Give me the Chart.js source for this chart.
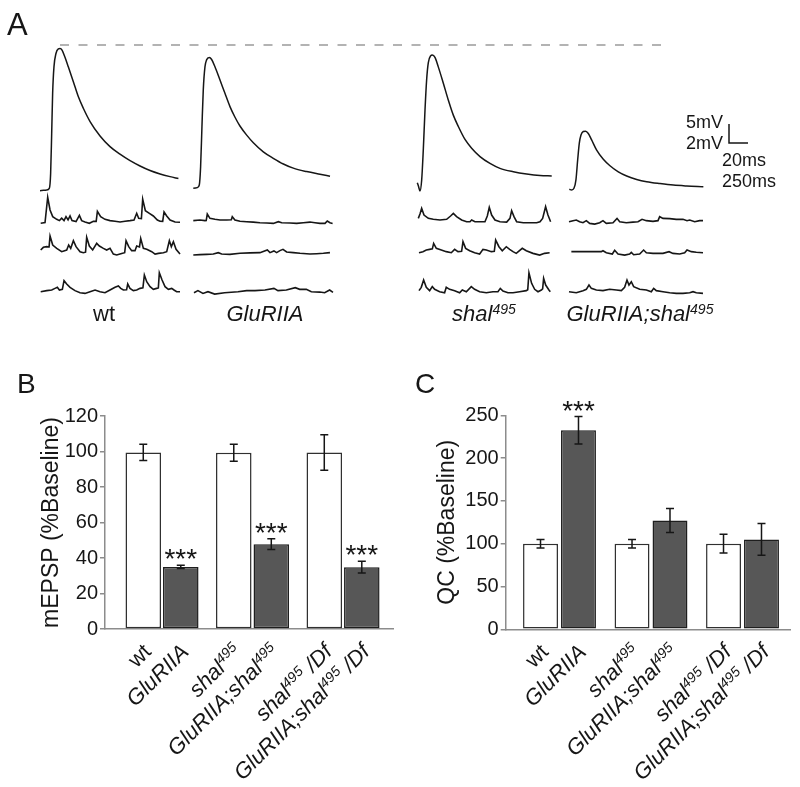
<!DOCTYPE html>
<html>
<head>
<meta charset="utf-8">
<script src="https://cdn.jsdelivr.net/npm/chart.js@4.4.0/dist/chart.umd.min.js"></script>
<style>
  html, body { margin: 0; padding: 0; background: #fff; }
  #page { position: relative; width: 800px; height: 787px; overflow: hidden; }
  canvas { position: absolute; }
</style>
</head>
<body>
<div id="page">
  <canvas id="traces" width="800" height="340" style="left:0;top:0"></canvas>
  <canvas id="mepsp" width="400" height="447" style="left:0;top:340px"></canvas>
  <canvas id="qc" width="400" height="447" style="left:400px;top:340px"></canvas>
</div>
<script>
// ---------- data ----------
// bar panels: one entry per genotype, ^...^ marks a superscript
const genotypes = ['wt', 'GluRIIA', 'shal^495^', 'GluRIIA;shal^495^', 'shal^495^ /Df', 'GluRIIA;shal^495^ /Df'];
const mepspMean = [99.5, 35.0, 99.3, 47.8, 99.4, 34.8];
const mepspSem  = [4.6, 0.9, 4.8, 3.0, 10.0, 3.3];
const mepspSig  = ['', '***', '', '***', '', '***'];
const mepspTicks = [0, 20, 40, 60, 80, 100, 120];
const qcMean = [100.0, 232.5, 100.0, 127.0, 100.0, 105.0];
const qcSem  = [5.0, 16.0, 5.0, 14.0, 11.0, 18.5];
const qcSig  = ['', '***', '', '', '', ''];
const qcTicks = [0, 50, 100, 150, 200, 250];

// panel A: evoked EPSPs, [ms, mV]
const traceLabels = ['wt', 'GluRIIA', 'shal^495^', 'GluRIIA;shal^495^'];
const epspWt = [[0,0],[7.0,0.18],[9.8,0.61],[11.2,4.56],[12.3,15.1],[13.3,25.6],[14.7,32.6],[16.8,36.1],[19.3,37.3],[21.1,37.4],[23.2,37.0],[26.3,35.1],[29.8,32.6],[35.1,28.7],[40.4,24.7],[45.6,21.7],[52.7,18.2],[63.2,14.4],[73.7,11.6],[84.2,9.6],[94.8,7.9],[105.3,6.5],[115.8,5.3],[126.4,4.4],[136.9,3.7],[145.7,3.2]];
const epspGluRIIA = [[0,0],[4.2,0.18],[6.3,0.88],[7.7,5.7],[9.1,16.2],[10.5,25.9],[12.3,32.0],[14.0,33.8],[16.8,34.4],[19.3,33.9],[22.8,32.0],[28.1,28.5],[33.3,25.0],[38.6,21.5],[43.9,18.7],[49.1,16.4],[56.2,14.0],[63.2,12.0],[73.7,9.6],[84.2,7.9],[94.8,6.4],[105.3,5.3],[119.3,4.4],[133.4,3.7],[143.9,3.2]];
const epspShal = [[0,1.93],[1.4,0.88],[2.8,-0.26],[4.6,2.6],[6.3,10.5],[8.1,21.0],[9.8,28.9],[11.6,33.5],[14.0,35.3],[15.8,35.5],[18.6,34.9],[22.1,32.4],[27.4,28.1],[32.6,23.7],[37.9,19.7],[43.2,16.7],[50.2,13.3],[57.2,11.0],[66.0,8.8],[76.5,7.0],[87.0,5.7],[101.1,4.8],[115.1,4.2],[129.2,3.8],[141.5,3.7]];
const epspDouble = [[0,0],[2.5,-0.18],[4.9,0.26],[7.0,2.5],[8.8,7.7],[10.5,12.1],[12.3,14.3],[14.7,15.2],[17.2,15.3],[20.0,14.7],[23.5,13.0],[28.8,10.3],[35.8,7.9],[42.8,6.2],[51.6,4.6],[60.4,3.5],[70.9,2.6],[81.4,2.0],[95.5,1.5],[109.5,1.1],[123.6,0.88],[141.1,0.70]];

// panel A: spontaneous minis, three sweeps per genotype, [ms, mV]
const miniWt = [
  [[0,0],[57,0.07],[92,2.74],[123,1.40],[158,0.70],[211,0.42],[246,0.28],[276,0.53],[307,0.28],[333,0.70],[360,0.35],[386,0.77],[412,0.28],[465,0.18],[509,0.84],[539,0.28],[583,0.14],[640,0],[693,0.21],[730,0.2],[746,1.26],[789,0.70],[846,0.42],[912,0.28],[978,0.21],[1044,0.14],[1110,0.21],[1175,0.28],[1228,0.35],[1263,1.05],[1289,0.53],[1325,0.5],[1342,2.53],[1377,1.33],[1430,1.05],[1482,0.77],[1535,0.35],[1570,0.21],[1605,0.2],[1623,1.19],[1658,0.77],[1702,0.35],[1768,0.14],[1833,0.11]],
  [[0,0.18],[35,0.46],[79,0.53],[110,0.5],[123,1.65],[158,0.70],[211,0.35],[276,0],[342,0.18],[368,0.70],[395,0.35],[430,1.16],[465,0.53],[518,0],[561,-0.11],[590,-0.05],[605,1.51],[640,0.60],[684,0.18],[737,0.88],[772,0.60],[825,0.35],[868,0.18],[912,0.35],[956,-0.25],[1000,-0.35],[1066,-0.18],[1105,-0.1],[1123,1.16],[1158,0.53],[1197,0.11],[1241,0.11],[1263,0.60],[1300,0.5],[1316,1.40],[1351,0.35],[1395,0.25],[1461,0],[1505,-0.25],[1549,-0.18],[1614,-0.11],[1658,0],[1693,1.16],[1719,0.53],[1746,1.05],[1781,0.25],[1833,-0.25]],
  [[0,0],[79,0.11],[145,0.18],[188,0.35],[219,0.46],[246,0.18],[285,0.25],[307,1.16],[342,0.81],[386,0.46],[451,0.11],[518,-0.11],[583,-0.18],[649,0],[715,0.18],[781,0],[846,-0.11],[912,0.18],[978,0.46],[1022,0.60],[1053,0.35],[1088,0.18],[1130,0.2],[1145,0.81],[1175,0.35],[1219,0.11],[1263,0.18],[1307,0.35],[1345,0.4],[1364,1.76],[1395,1.05],[1439,0.53],[1482,0.25],[1526,0.35],[1548,0.4],[1561,2.0],[1597,1.23],[1636,0.53],[1680,0.25],[1724,0.35],[1754,0.18],[1789,0],[1833,0]]
];
const miniGluRIIA = [
  [[0,0.11],[88,0.18],[154,0.11],[170,0.12],[184,0.81],[219,0.35],[285,0.25],[351,0.18],[439,0.18],[500,0.2],[513,0.53],[548,0.18],[614,0.04],[702,0],[789,-0.04],[877,-0.11],[965,-0.14],[1053,-0.18],[1119,0],[1163,-0.11],[1272,-0.14],[1360,-0.18],[1448,-0.11],[1535,-0.04],[1601,-0.11],[1667,-0.18],[1733,-0.18],[1763,0.07],[1798,-0.11],[1833,-0.18]],
  [[0,-0.18],[88,-0.14],[175,-0.11],[263,-0.07],[329,0.07],[373,-0.07],[482,-0.11],[614,0],[746,0.04],[877,0.07],[974,0.35],[1009,0.07],[1061,0.25],[1096,0.07],[1140,0.28],[1180,0.42],[1228,0.14],[1316,0.07],[1404,0],[1535,-0.07],[1623,-0.04],[1711,0],[1798,0.07]],
  [[9,-0.11],[61,0.11],[127,-0.18],[193,0],[281,-0.25],[412,-0.11],[588,0],[702,0.11],[811,0.11],[943,0.18],[1061,0.35],[1114,0.11],[1224,0.18],[1342,0.42],[1400,0.25],[1487,0.25],[1553,0],[1663,-0.04],[1728,-0.11],[1794,0.18],[1838,-0.07]]
];
const miniShal = [
  [[0,0.35],[22,0.81],[44,1.40],[75,0.70],[132,0.35],[197,0.25],[285,0.18],[373,0.25],[425,0.60],[461,0.88],[504,0.53],[570,0.18],[636,0],[680,0],[702,0.18],[746,0],[811,0],[877,0],[908,0.60],[934,1.51],[965,0.70],[1009,0.18],[1075,0],[1163,-0.04],[1206,0.35],[1228,1.16],[1259,0.53],[1294,0],[1382,-0.11],[1469,-0.11],[1557,-0.11],[1601,0],[1636,0.35],[1675,1.58],[1706,0.70],[1741,0]],
  [[9,0],[61,0.11],[105,0.28],[149,0.35],[185,0.4],[202,0.98],[237,0.46],[303,0.28],[368,0.11],[434,0],[478,0.35],[522,0.11],[570,0.15],[588,1.16],[623,0.46],[676,0.21],[741,0],[807,-0.14],[851,0.35],[895,0.28],[961,0.11],[1000,0.15],[1018,1.33],[1061,0.63],[1105,0.21],[1158,0.63],[1202,0.35],[1246,0.11],[1289,-0.07],[1368,0.46],[1421,0.21],[1509,-0.07],[1597,-0.25],[1662,-0.07],[1728,0]],
  [[9,0.11],[39,0.46],[70,1.23],[105,0.46],[149,0.11],[184,0.53],[215,0.25],[281,0],[346,-0.11],[368,0.46],[412,0.25],[478,0.11],[544,-0.11],[579,0.18],[632,0],[697,0.53],[741,0.25],[807,0],[895,-0.11],[982,0],[1048,0],[1079,0.35],[1114,0.07],[1180,-0.11],[1246,-0.11],[1333,0],[1421,0.11],[1440,0.2],[1456,2.0],[1491,0.88],[1531,0.25],[1575,0],[1619,0.18],[1636,0.3],[1649,1.40],[1676,0.70],[1719,0.18],[1737,0]]
];
const miniDouble = [
  [[0,0],[53,0.11],[96,0.18],[140,0],[184,-0.11],[228,0.11],[272,-0.18],[338,-0.25],[404,-0.11],[447,0.11],[491,-0.18],[579,-0.11],[632,0.35],[667,0],[754,-0.11],[842,-0.04],[908,0],[961,0.25],[1018,0.11],[1105,0.04],[1171,0.11],[1193,0.53],[1237,0.35],[1325,0.32],[1412,0.25],[1500,0.25],[1553,0.11],[1588,0.18],[1654,0],[1719,0.11],[1763,0.11]],
  [[31,0.11],[140,0.11],[272,0.11],[360,0.11],[425,0.11],[447,0.21],[491,0],[570,-0.14],[601,0.25],[645,-0.14],[732,-0.25],[798,-0.14],[820,0.04],[851,-0.21],[930,-0.14],[982,0.28],[1018,0],[1105,-0.07],[1193,-0.07],[1237,-0.07],[1316,0.11],[1368,-0.07],[1456,-0.14],[1522,0],[1553,0.28],[1610,0.11],[1675,0.04],[1763,0]],
  [[0,0],[96,-0.11],[184,0.11],[228,0.25],[263,0.70],[294,0.35],[360,0.18],[447,0.11],[535,0.25],[623,0.18],[689,0.11],[732,0.46],[763,1.23],[789,0.70],[820,1.05],[851,0.53],[930,0.25],[1018,0.18],[1083,0],[1114,0.35],[1149,0.11],[1237,0],[1325,-0.11],[1412,-0.18],[1500,-0.18],[1588,-0.11],[1632,0],[1675,-0.11],[1763,-0.18]]
];

// ---------- layout ----------
const FONT = '"Liberation Sans", Arial, Helvetica, sans-serif';
const INK = '#161616';
Chart.defaults.font.family = FONT;
Chart.defaults.color = INK;

const PX_PER_MS_E = 19 / 20, PX_PER_MV_E = 19 / 5;     // 20 ms / 5 mV scale bar = 19 px
const PX_PER_MS_M = 19 / 250, PX_PER_MV_M = 19 / 2;    // 250 ms / 2 mV
const EPSP_X = [40, 193.3, 417.3, 569.3];
const EPSP_Y = [190.7, 188.3, 190, 189.3];
const MINI_X = [40.7, 193.3, 418.3, 569];
const MINI_Y = [[223.3, 251.7, 291.7], [221.7, 253.3, 291.7], [221.7, 252.7, 291.7], [221.7, 252.7, 291.7]];
const LABEL_X = [104, 265, 484, 640];

function font(size, italic) { return (italic ? 'italic ' : '') + size + 'px ' + FONT; }
function segs(str) { return str.split('^').map((t, i) => ({ t, sup: i % 2 === 1 })); }
function richWidth(ctx, str, size, italic) {
  let w = 0;
  segs(str).forEach(s => { ctx.font = font(s.sup ? size * 0.64 : size, italic); w += ctx.measureText(s.t).width; });
  return w;
}
function drawRich(ctx, str, x, y, size, italic) {
  segs(str).forEach(s => {
    ctx.font = font(s.sup ? size * 0.64 : size, italic);
    ctx.fillText(s.t, x, s.sup ? y - size * 0.33 : y);
    x += ctx.measureText(s.t).width;
  });
}

// ---------- panel A ----------
const W_A = 800, H_A = 340;
function place(points, x0, y0, pxMs, pxMv) {
  return points.map(([t, v]) => ({ x: x0 / pxMs + t, y: -y0 / pxMv + v }));
}
const epsps = [epspWt, epspGluRIIA, epspShal, epspDouble];
const minis = [miniWt, miniGluRIIA, miniShal, miniDouble];
const traceSets = [];
epsps.forEach((tr, c) => traceSets.push({
  data: place(tr, EPSP_X[c], EPSP_Y[c], PX_PER_MS_E, PX_PER_MV_E),
  xAxisID: 'xe', yAxisID: 'ye', borderColor: INK, borderWidth: 1.5,
  pointRadius: 0, cubicInterpolationMode: 'monotone'
}));
minis.forEach((rows, c) => rows.forEach((tr, r) => traceSets.push({
  data: place(tr, MINI_X[c], MINI_Y[c][r], PX_PER_MS_M, PX_PER_MV_M),
  xAxisID: 'xm', yAxisID: 'ym', borderColor: INK, borderWidth: 1.6,
  pointRadius: 0, tension: 0
})));

const panelA = {
  id: 'panelA',
  afterDatasetsDraw(chart) {
    const ctx = chart.ctx, xe = chart.scales.xe, ye = chart.scales.ye;
    ctx.save();
    // reference level of the wt peak
    ctx.strokeStyle = '#9a9a9a'; ctx.lineWidth = 1.5; ctx.setLineDash([9, 9.5]);
    ctx.beginPath(); ctx.moveTo(60, 45); ctx.lineTo(667, 45); ctx.stroke();
    ctx.setLineDash([]);
    // scale bar
    const v = Math.abs(ye.getPixelForValue(0) - ye.getPixelForValue(5));
    const h = xe.getPixelForValue(20) - xe.getPixelForValue(0);
    const cx = 729, cy = 143;
    ctx.strokeStyle = INK; ctx.lineWidth = 1.5;
    ctx.beginPath(); ctx.moveTo(cx, cy - v); ctx.lineTo(cx, cy); ctx.lineTo(cx + h, cy); ctx.stroke();
    ctx.fillStyle = INK; ctx.font = font(18);
    ctx.textAlign = 'right';
    ctx.fillText('5mV', 723, 128); ctx.fillText('2mV', 723, 149);
    ctx.textAlign = 'left';
    ctx.fillText('20ms', 722, 166); ctx.fillText('250ms', 722, 187);
    // genotype labels
    traceLabels.forEach((lab, i) => {
      const it = lab !== 'wt';
      const w = richWidth(ctx, lab, 22, it);
      drawRich(ctx, lab, LABEL_X[i] - w / 2, 321, 22, it);
    });
    ctx.font = font(31);
    ctx.fillText('A', 7, 35);
    ctx.restore();
  }
};

new Chart(document.getElementById('traces'), {
  type: 'line',
  data: { datasets: traceSets },
  options: {
    responsive: false, animation: false, devicePixelRatio: 1, events: [],
    layout: { padding: 0 },
    plugins: { legend: { display: false }, tooltip: { enabled: false } },
    scales: {
      xe: { type: 'linear', display: false, min: 0, max: W_A / PX_PER_MS_E },
      ye: { type: 'linear', display: false, min: -H_A / PX_PER_MV_E, max: 0 },
      xm: { type: 'linear', display: false, min: 0, max: W_A / PX_PER_MS_M },
      ym: { type: 'linear', display: false, min: -H_A / PX_PER_MV_M, max: 0 }
    }
  },
  plugins: [panelA]
});

// ---------- panels B, C ----------
const LABEL_ANGLE = 45 * Math.PI / 180;
function barChart(id, means, sems, sigs, ticks, yTitle, letter, g) {
  const ctrl = [0, 2, 4], iia = [1, 3, 5];
  const overlay = {
    id: 'overlay' + id,
    afterDatasetsDraw(chart) {
      const ctx = chart.ctx, y = chart.scales.y, area = chart.chartArea;
      ctx.save();
      [ctrl, iia].forEach((idx, d) => {
        chart.getDatasetMeta(d).data.forEach((bar, j) => {
          const k = idx[j];
          const top = y.getPixelForValue(means[k] + sems[k]);
          const bot = y.getPixelForValue(means[k] - sems[k]);
          ctx.strokeStyle = INK; ctx.lineWidth = 1.5;
          ctx.beginPath();
          ctx.moveTo(bar.x, top); ctx.lineTo(bar.x, bot);
          ctx.moveTo(bar.x - 4, top); ctx.lineTo(bar.x + 4, top);
          ctx.moveTo(bar.x - 4, bot); ctx.lineTo(bar.x + 4, bot);
          ctx.stroke();
          ctx.fillStyle = INK;
          if (sigs[k]) {
            ctx.font = font(28); ctx.textAlign = 'center'; ctx.textBaseline = 'alphabetic';
            ctx.fillText(sigs[k], bar.x, top + 3);
          }
          // rotated genotype label under the bar
          const lab = genotypes[k], it = lab !== 'wt';
          ctx.save();
          ctx.translate(bar.x + 9, area.bottom + 24);
          ctx.rotate(-LABEL_ANGLE);
          ctx.textAlign = 'left';
          drawRich(ctx, lab, -richWidth(ctx, lab, 22, it), 0, 22, it);
          ctx.restore();
        });
      });
      // axis title and panel letter
      ctx.save();
      ctx.translate(g.titleX, (area.top + area.bottom) / 2);
      ctx.rotate(-Math.PI / 2);
      ctx.font = font(23); ctx.textAlign = 'center'; ctx.textBaseline = 'middle';
      ctx.fillText(yTitle, 0, 0);
      ctx.restore();
      ctx.font = font(28); ctx.textAlign = 'left'; ctx.textBaseline = 'alphabetic';
      ctx.fillText(letter, g.letterX, 53);
      ctx.restore();
    }
  };
  return new Chart(document.getElementById(id), {
    type: 'bar',
    data: {
      datasets: [
        { data: ctrl.map((k, j) => ({ x: j + 1, y: means[k] })), backgroundColor: '#ffffff', borderColor: '#303030', borderWidth: 1.5, borderSkipped: false },
        { data: iia.map((k, j) => ({ x: j + 1, y: means[k] })), backgroundColor: '#575757', borderColor: '#1e1e1e', borderWidth: 1.5, borderSkipped: false }
      ]
    },
    options: {
      responsive: false, animation: false, devicePixelRatio: 1, events: [],
      categoryPercentage: g.catPct, barPercentage: g.barPct,
      layout: { padding: { top: g.top, right: g.right, left: 0, bottom: 0 } },
      plugins: { legend: { display: false }, tooltip: { enabled: false } },
      scales: {
        x: {
          type: 'linear', offset: false, min: g.xMin, max: g.xMax,
          grid: { display: false }, ticks: { display: false },
          border: { display: true, color: '#8c8c8c', width: 1.5 },
          afterBuildTicks: s => { s.ticks = [1, 2, 3].map(v => ({ value: v })); },
          afterFit: s => { s.height = g.xHeight; }
        },
        y: {
          min: ticks[0], max: ticks[ticks.length - 1],
          afterBuildTicks: s => { s.ticks = ticks.map(v => ({ value: v })); },
          ticks: { font: { size: 20 }, color: INK, padding: 2 },
          grid: { drawOnChartArea: false, drawTicks: true, tickLength: 5, color: '#8c8c8c', lineWidth: 1.5 },
          border: { color: '#8c8c8c', width: 1.5 },
          afterFit: s => { s.width = g.yWidth; }
        }
      }
    },
    plugins: [overlay]
  });
}

barChart('mepsp', mepspMean, mepspSem, mepspSig, mepspTicks, 'mEPSP (%Baseline)', 'B',
  { top: 76, right: 7, yWidth: 105, xHeight: 158, xMin: 0.37, xMax: 3.552, catPct: 0.829, barPct: 0.947, titleX: 52, letterX: 17 });
barChart('qc', qcMean, qcSem, qcSig, qcTicks, 'QC (%Baseline)', 'C',
  { top: 75.3, right: 10, yWidth: 105.7, xHeight: 157.7, xMin: 0.412, xMax: 3.519, catPct: 0.83, barPct: 0.92, titleX: 48, letterX: 15 });
</script>
</body>
</html>
